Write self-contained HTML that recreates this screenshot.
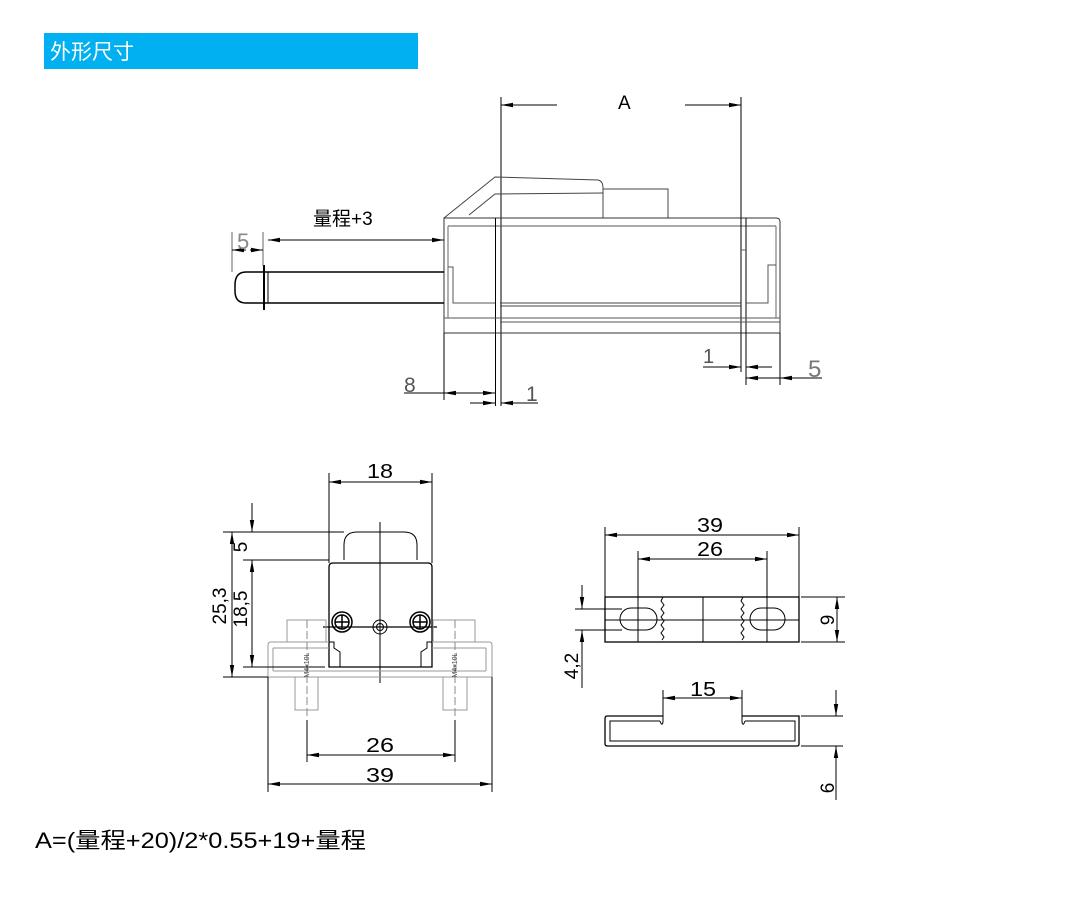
<!DOCTYPE html>
<html><head><meta charset="utf-8">
<style>
html,body{margin:0;padding:0;background:#fff;}
svg{display:block;}
text{font-family:"Liberation Sans","Noto Sans CJK SC",sans-serif;}
</style></head>
<body>
<svg width="1068" height="912" viewBox="0 0 1068 912" xmlns="http://www.w3.org/2000/svg">
<defs>
<marker id="a" viewBox="0 0 12 6" refX="12" refY="3" markerWidth="12" markerHeight="6" orient="auto-start-reverse" markerUnits="userSpaceOnUse">
<path d="M0,0.8 L12,3 L0,5.2 Z" fill="#000"/>
</marker>
</defs>
<rect x="44" y="33" width="374" height="36" fill="#00b0f0"/>
<text x="50" y="59" font-size="21" fill="#fff">外形尺寸</text>

<g fill="none" stroke="#000" stroke-width="1">
<line x1="501" y1="97" x2="501" y2="406"/>
<line x1="741" y1="97" x2="741" y2="372"/>
<line x1="557" y1="105" x2="501" y2="105" marker-end="url(#a)"/>
<line x1="685" y1="105" x2="741" y2="105" marker-end="url(#a)"/>
<g stroke="#444">
<path d="M444,218 L495,177 L598,180 Q603,181 603,188 L603,216"/>
<path d="M469,215 L495,194 L603,193"/>
<rect x="603" y="189" width="65" height="29"/>
</g>
<path d="M444,218 L776,218 Q780,218 780,222 L780,333 L444,333 Z" stroke="#333"/>
<line x1="448" y1="226" x2="776" y2="226" stroke="#555"/>
<line x1="448" y1="226" x2="448" y2="318" stroke="#666"/>
<line x1="776" y1="226" x2="776" y2="318" stroke="#666"/>
<line x1="495.5" y1="218" x2="495.5" y2="333"/>
<line x1="741" y1="218" x2="741" y2="333"/>
<line x1="746" y1="218" x2="746" y2="385"/>
<line x1="500" y1="303" x2="741" y2="303" stroke="#444"/>
<line x1="500" y1="306" x2="741" y2="306" stroke="#444"/>
<line x1="444" y1="318" x2="780" y2="318" stroke="#555"/>
<line x1="500" y1="322" x2="780" y2="322" stroke="#555"/>
<path d="M448,267 L453,267 L453,303 L495,303" stroke="#555"/>
<path d="M776,265 L768,265 L768,303 L746,303" stroke="#555"/>
<line x1="741" y1="250" x2="746" y2="250" stroke="#666"/>
<path d="M444,272 L246,272 Q235,272 235,285 L235,291 Q235,303 246,303 L444,303" stroke-width="1.5"/>
<line x1="264" y1="265" x2="264" y2="310" stroke-width="2"/>
<line x1="268" y1="272" x2="268" y2="303" stroke-width="1"/>
<line x1="232" y1="232" x2="232" y2="272" stroke="#666"/>
<line x1="263" y1="232" x2="263" y2="266" stroke="#666"/>
<line x1="246" y1="250" x2="232" y2="250" marker-end="url(#a)"/>
<line x1="250" y1="250" x2="263" y2="250" marker-end="url(#a)"/>
<line x1="356" y1="240" x2="268" y2="240" marker-end="url(#a)"/>
<line x1="356" y1="240" x2="444" y2="240" marker-end="url(#a)"/>
<line x1="444" y1="333" x2="444" y2="400"/>
<line x1="495.5" y1="333" x2="495.5" y2="406"/>
<line x1="780" y1="333" x2="780" y2="385"/>
<line x1="703" y1="367" x2="741" y2="367" marker-end="url(#a)"/>
<line x1="772" y1="367" x2="746" y2="367" marker-end="url(#a)"/>
<line x1="822" y1="378" x2="780" y2="378" marker-end="url(#a)"/>
<line x1="763" y1="378" x2="746" y2="378" marker-end="url(#a)"/>
<line x1="763" y1="378" x2="780" y2="378"/>
<line x1="404" y1="393" x2="444" y2="393"/>
<line x1="470" y1="393" x2="444" y2="393" marker-end="url(#a)"/>
<line x1="470" y1="393" x2="495" y2="393" marker-end="url(#a)"/>
<line x1="470" y1="403" x2="495" y2="403" marker-end="url(#a)"/>
<line x1="538" y1="403" x2="501" y2="403" marker-end="url(#a)"/>

<line x1="329" y1="473" x2="329" y2="563"/>
<line x1="432" y1="473" x2="432" y2="563"/>
<line x1="380" y1="482" x2="329" y2="482" marker-end="url(#a)"/>
<line x1="380" y1="482" x2="432" y2="482" marker-end="url(#a)"/>
<path d="M344,560 L344,545 Q344,532 357,532 L404,532 Q417,532 417,545 L417,560"/>
<path d="M329,667 L329,567 Q329,563 333,563 L428,563 Q432,563 432,567 L432,667 Z" stroke-width="1.3"/>
<line x1="380" y1="522" x2="380" y2="683"/>
<line x1="323" y1="627" x2="437" y2="627" stroke-width="1.3"/>
<g stroke-width="1.5">
<circle cx="342" cy="622" r="10"/><circle cx="342" cy="622" r="7"/>
<line x1="335" y1="622" x2="349" y2="622"/><line x1="342" y1="615" x2="342" y2="629"/>
<circle cx="420" cy="622" r="10"/><circle cx="420" cy="622" r="7"/>
<line x1="413" y1="622" x2="427" y2="622"/><line x1="420" y1="615" x2="420" y2="629"/>
</g>
<circle cx="380" cy="627" r="7"/><circle cx="380" cy="627" r="3.5"/>
<g stroke="#999">
<path d="M268,677 L268,645 Q268,642 271,642 L329,642"/>
<path d="M432,642 L489,642 Q492,642 492,645 L492,677 L268,677"/>
<line x1="273" y1="648" x2="329" y2="648"/><line x1="432" y1="648" x2="486" y2="648"/>
<line x1="273" y1="648" x2="273" y2="671"/><line x1="486" y1="648" x2="486" y2="671"/>
<line x1="273" y1="671" x2="486" y2="671"/>
<rect x="287" y="620" width="39" height="22"/>
<rect x="433" y="620" width="42" height="22"/>
<rect x="295" y="677" width="23" height="33"/>
<rect x="443" y="677" width="24" height="33"/>
</g>
<path d="M329,642 L334,642 L334,648 L340,652 L340,667" stroke="#000"/>
<path d="M432,642 L427,642 L427,648 L421,652 L421,667" stroke="#000"/>
<line x1="307" y1="620" x2="307" y2="718" stroke="#888" stroke-dasharray="8,3"/>
<line x1="455" y1="620" x2="455" y2="718" stroke="#888" stroke-dasharray="8,3"/>
<line x1="307" y1="720" x2="307" y2="762"/>
<line x1="455" y1="720" x2="455" y2="762"/>
<line x1="380" y1="755" x2="307" y2="755" marker-end="url(#a)"/>
<line x1="380" y1="755" x2="455" y2="755" marker-end="url(#a)"/>
<line x1="268" y1="677" x2="268" y2="792"/>
<line x1="492" y1="677" x2="492" y2="792"/>
<line x1="380" y1="784" x2="268" y2="784" marker-end="url(#a)"/>
<line x1="380" y1="784" x2="492" y2="784" marker-end="url(#a)"/>
<line x1="223" y1="677" x2="268" y2="677"/>
<line x1="223" y1="532" x2="344" y2="532"/>
<line x1="243" y1="560" x2="329" y2="560"/>
<line x1="243" y1="667" x2="325" y2="667"/>
<line x1="232" y1="605" x2="232" y2="532" marker-end="url(#a)"/>
<line x1="232" y1="605" x2="232" y2="677" marker-end="url(#a)"/>
<line x1="252" y1="610" x2="252" y2="560" marker-end="url(#a)"/>
<line x1="252" y1="610" x2="252" y2="667" marker-end="url(#a)"/>
<line x1="252" y1="503" x2="252" y2="532" marker-end="url(#a)"/>

<line x1="605" y1="527" x2="605" y2="597"/>
<line x1="799" y1="527" x2="799" y2="597"/>
<line x1="638" y1="551" x2="638" y2="597"/>
<line x1="767" y1="551" x2="767" y2="597"/>
<line x1="700" y1="535" x2="605" y2="535" marker-end="url(#a)"/>
<line x1="700" y1="535" x2="799" y2="535" marker-end="url(#a)"/>
<line x1="700" y1="559" x2="638" y2="559" marker-end="url(#a)"/>
<line x1="700" y1="559" x2="767" y2="559" marker-end="url(#a)"/>
<rect x="605" y="597" width="194" height="45" stroke-width="1.3"/>
<line x1="638" y1="597" x2="638" y2="642"/>
<line x1="767" y1="597" x2="767" y2="642"/>
<line x1="703" y1="597" x2="703" y2="642"/>
<line x1="605" y1="620" x2="799" y2="620"/>
<path d="M663,597 l-2,4 l3,4 l-3,4 l3,4 l-3,4 l3,4 l-3,4 l3,4 l-3,4 l3,4 l-2,3"/>
<path d="M743,597 l-2,4 l3,4 l-3,4 l3,4 l-3,4 l3,4 l-3,4 l3,4 l-3,4 l3,4 l-2,3"/>
<rect x="620" y="608" width="37" height="22" rx="11"/>
<rect x="750" y="608" width="35" height="22" rx="11"/>
<line x1="801" y1="597" x2="845" y2="597"/>
<line x1="801" y1="642" x2="845" y2="642"/>
<line x1="837" y1="620" x2="837" y2="597" marker-end="url(#a)"/>
<line x1="837" y1="620" x2="837" y2="642" marker-end="url(#a)"/>
<line x1="575" y1="609" x2="622" y2="609"/>
<line x1="575" y1="630" x2="622" y2="630"/>
<line x1="582" y1="585" x2="582" y2="609" marker-end="url(#a)"/>
<line x1="582" y1="688" x2="582" y2="630" marker-end="url(#a)"/>
<path d="M663,716 L607,716 Q605,716 605,719 L605,744 Q605,746 608,746 L797,746 Q799,746 799,744 L799,716 L742,716" stroke-width="1.3"/>
<path d="M660,721 L610,721 L610,741 L795,741 L795,721 L745,721"/>
<path d="M663,716 L663,722 Q662,727 660,721"/>
<path d="M742,716 L742,722 Q743,727 745,721"/>
<line x1="663" y1="690" x2="663" y2="716"/>
<line x1="742" y1="690" x2="742" y2="716"/>
<line x1="703" y1="698" x2="663" y2="698" marker-end="url(#a)"/>
<line x1="703" y1="698" x2="742" y2="698" marker-end="url(#a)"/>
<line x1="801" y1="716" x2="843" y2="716"/>
<line x1="801" y1="746" x2="843" y2="746"/>
<line x1="836" y1="690" x2="836" y2="716" marker-end="url(#a)"/>
<line x1="836" y1="800" x2="836" y2="746" marker-end="url(#a)"/>
</g>

<g fill="#000" font-size="19">
<text x="618" y="109">A</text>
<text x="313" y="225" font-size="19">量程+3</text>
<text x="237" y="249" fill="#888" font-size="22">5</text>
<text x="703" y="363" fill="#555" font-size="20">1</text>
<text x="808" y="377" fill="#777" font-size="24">5</text>
<text x="404" y="392" fill="#555" font-size="21">8</text>
<text x="526" y="401" fill="#555" font-size="21">1</text>
<g font-size="20">
<text x="367" y="478" textLength="26" lengthAdjust="spacingAndGlyphs">18</text>
<text x="366" y="752" textLength="28" lengthAdjust="spacingAndGlyphs">26</text>
<text x="366" y="782" textLength="28" lengthAdjust="spacingAndGlyphs">39</text>
<text x="697" y="532" textLength="26" lengthAdjust="spacingAndGlyphs">39</text>
<text x="697" y="556" textLength="26" lengthAdjust="spacingAndGlyphs">26</text>
<text x="690" y="696" textLength="26" lengthAdjust="spacingAndGlyphs">15</text>
</g>
<text transform="translate(226,606) rotate(-90)" text-anchor="middle">25,3</text>
<text transform="translate(247,609) rotate(-90)" text-anchor="middle">18,5</text>
<text transform="translate(247,547) rotate(-90)" text-anchor="middle">5</text>
<text transform="translate(578,666) rotate(-90)" text-anchor="middle">4,2</text>
<text transform="translate(834,620) rotate(-90)" text-anchor="middle">9</text>
<text transform="translate(834,788) rotate(-90)" text-anchor="middle">6</text>
<text transform="translate(309,665) rotate(-90)" text-anchor="middle" font-size="7" fill="#444">M4x10L</text>
<text transform="translate(457,665) rotate(-90)" text-anchor="middle" font-size="7" fill="#444">M4x10L</text>
<text x="35" y="848" font-size="22" textLength="331" lengthAdjust="spacingAndGlyphs">A=(量程+20)/2*0.55+19+量程</text>
</g>
</svg>
</body></html>
